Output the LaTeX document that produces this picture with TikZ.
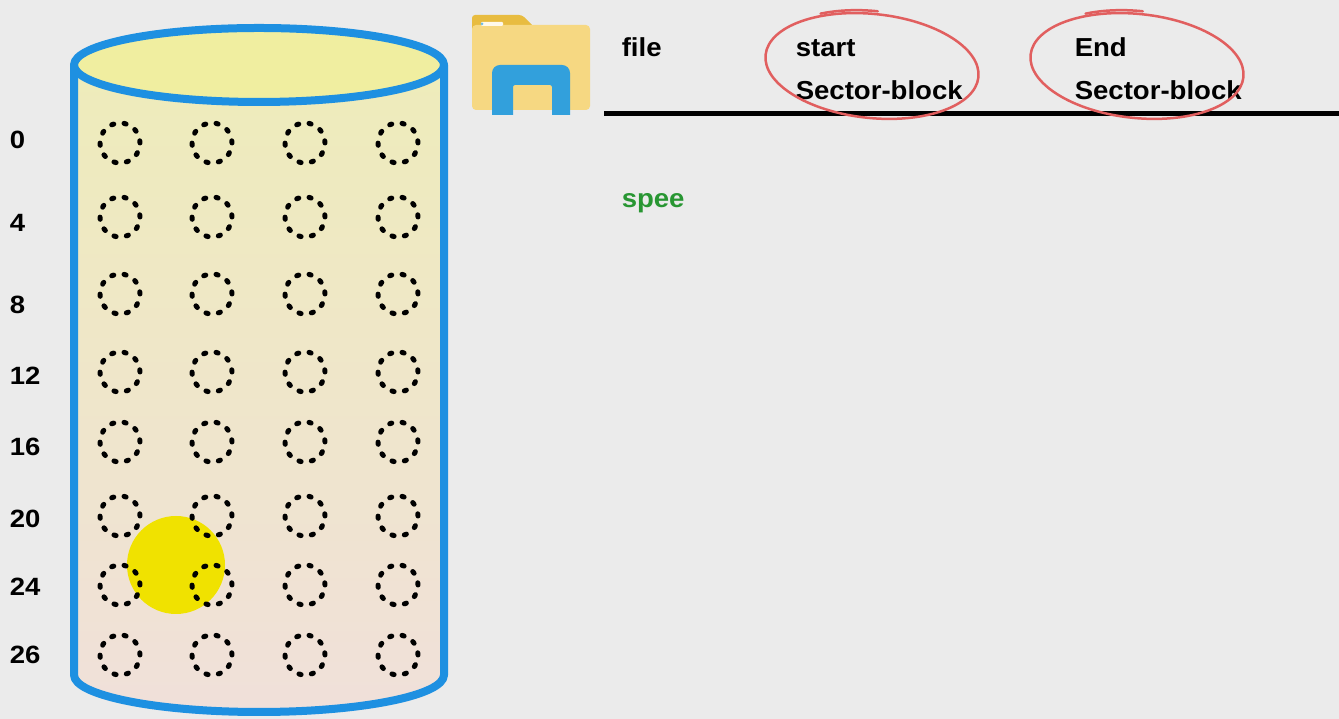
\documentclass[tikz,border=0pt]{standalone}
\usepackage{fontspec}
\setmainfont{Liberation Sans}
\definecolor{bggray}{RGB}{235,235,235}
\definecolor{diskblue}{RGB}{30,144,225}
\definecolor{lidyellow}{RGB}{240,238,160}
\definecolor{bodytop}{RGB}{238,236,186}
\definecolor{bodybot}{RGB}{240,224,218}
\definecolor{blobyellow}{RGB}{240,226,0}
\definecolor{tabgold}{RGB}{232,188,64}
\definecolor{foldyellow}{RGB}{246,216,130}
\definecolor{archblue}{RGB}{50,160,220}
\definecolor{ringred}{RGB}{225,95,95}
\definecolor{speegreen}{RGB}{40,150,50}
\begin{document}
\begin{tikzpicture}[x=1pt,y=1pt,line join=round,line cap=round]
	\tikzset{declare function={
			xl=74;xr=444;xm=259;rdx=185;rdy=37;ytop=654;ybot=44;
		},
		sector/.style={circle,draw,inner sep=0pt,minimum size=40pt,line width=5pt,dash pattern=on 2.2pt off 10.37pt},
		rowlbl/.style={anchor=west,xscale=1.1,font=\fontsize{25}{28}\selectfont\bfseries},
		head/.style={anchor=base west,xscale=1.06,font=\fontsize{26}{30}\selectfont\bfseries},
		ring/.style={draw=ringred,line width=2.5pt},
	}
	\useasboundingbox (0,0) rectangle (1339,719);
	\fill[bggray] (0,0) rectangle (1339,719);
	% disk body
	\shade[top color=bodytop,bottom color=bodybot] (xl,ytop)--(xl,ybot)
		arc[start angle=180,end angle=360,x radius=rdx,y radius=rdy]--(xr,ytop)--cycle;
	\fill[blobyellow] (176,154) circle (49);
	\foreach \r/\y in {1/576,2/502,3/425,4/347,5/277,6/203,7/134,8/64}{
		\foreach \c/\x in {1/120,2/212,3/305,4/398}{
			\node[sector] (s\r\c) at (\x,\y) {};
		}
	}
	\draw[diskblue,line width=8pt] (xl,ytop)--(xl,ybot)
		arc[start angle=180,end angle=360,x radius=rdx,y radius=rdy]--(xr,ytop);
	\filldraw[fill=lidyellow,draw=diskblue,line width=8pt] (xm,ytop) ellipse[x radius=rdx,y radius=rdy];
	\foreach \n/\y in {0/579,4/496,8/414,12/343,16/272,20/200,24/132,26/64}{
		\node[rowlbl] (r\n) at (6,\y) {\n};
	}
	% folder icon
	\fill[tabgold,rounded corners=3pt] (472,704)--(522,704)--(534,692)--(534,680)--(472,680)--cycle;
	\fill[foldyellow,rounded corners=4pt] (472,694) rectangle (590,609);
	\fill[white!85!foldyellow,rounded corners=1pt] (481,697) rectangle (503,693);
	\fill[archblue!70] (482,695) circle (1.5);
	\fill[archblue] (492,604)[rounded corners=8pt]--(492,654)--(570,654)[sharp corners]--(570,604)
		--(552,604)[rounded corners=2pt]--(552,634)--(513,634)[sharp corners]--(513,604)--cycle;
	% table header
	\coordinate (rulel) at (604,605);
	\coordinate (ruler) at (1339,605);
	\draw[line width=5pt,line cap=butt] (rulel)--(ruler);
	\node[head] (file) at (618,662) {file};
	\node[head] (start) at (792,662) {start};
	\node[head] (startsb) at (792,619) {Sector-block};
	\node[head] (end) at (1071,662) {End};
	\node[head] (endsb) at (1071,619) {Sector-block};
	\node[head,text=speegreen] (spee) at (618,511) {spee};
	\foreach \cx in {872,1137}{
		\draw[ring,rotate around={-6:(\cx,653)}] (\cx,653) ellipse[x radius=107,y radius=52];
		\draw[ring,rotate around={-6:(\cx,653)}] (\cx,653)++(0,55) arc[start angle=90,end angle=122,x radius=107,y radius=55];
	}
\end{tikzpicture}
\end{document}
